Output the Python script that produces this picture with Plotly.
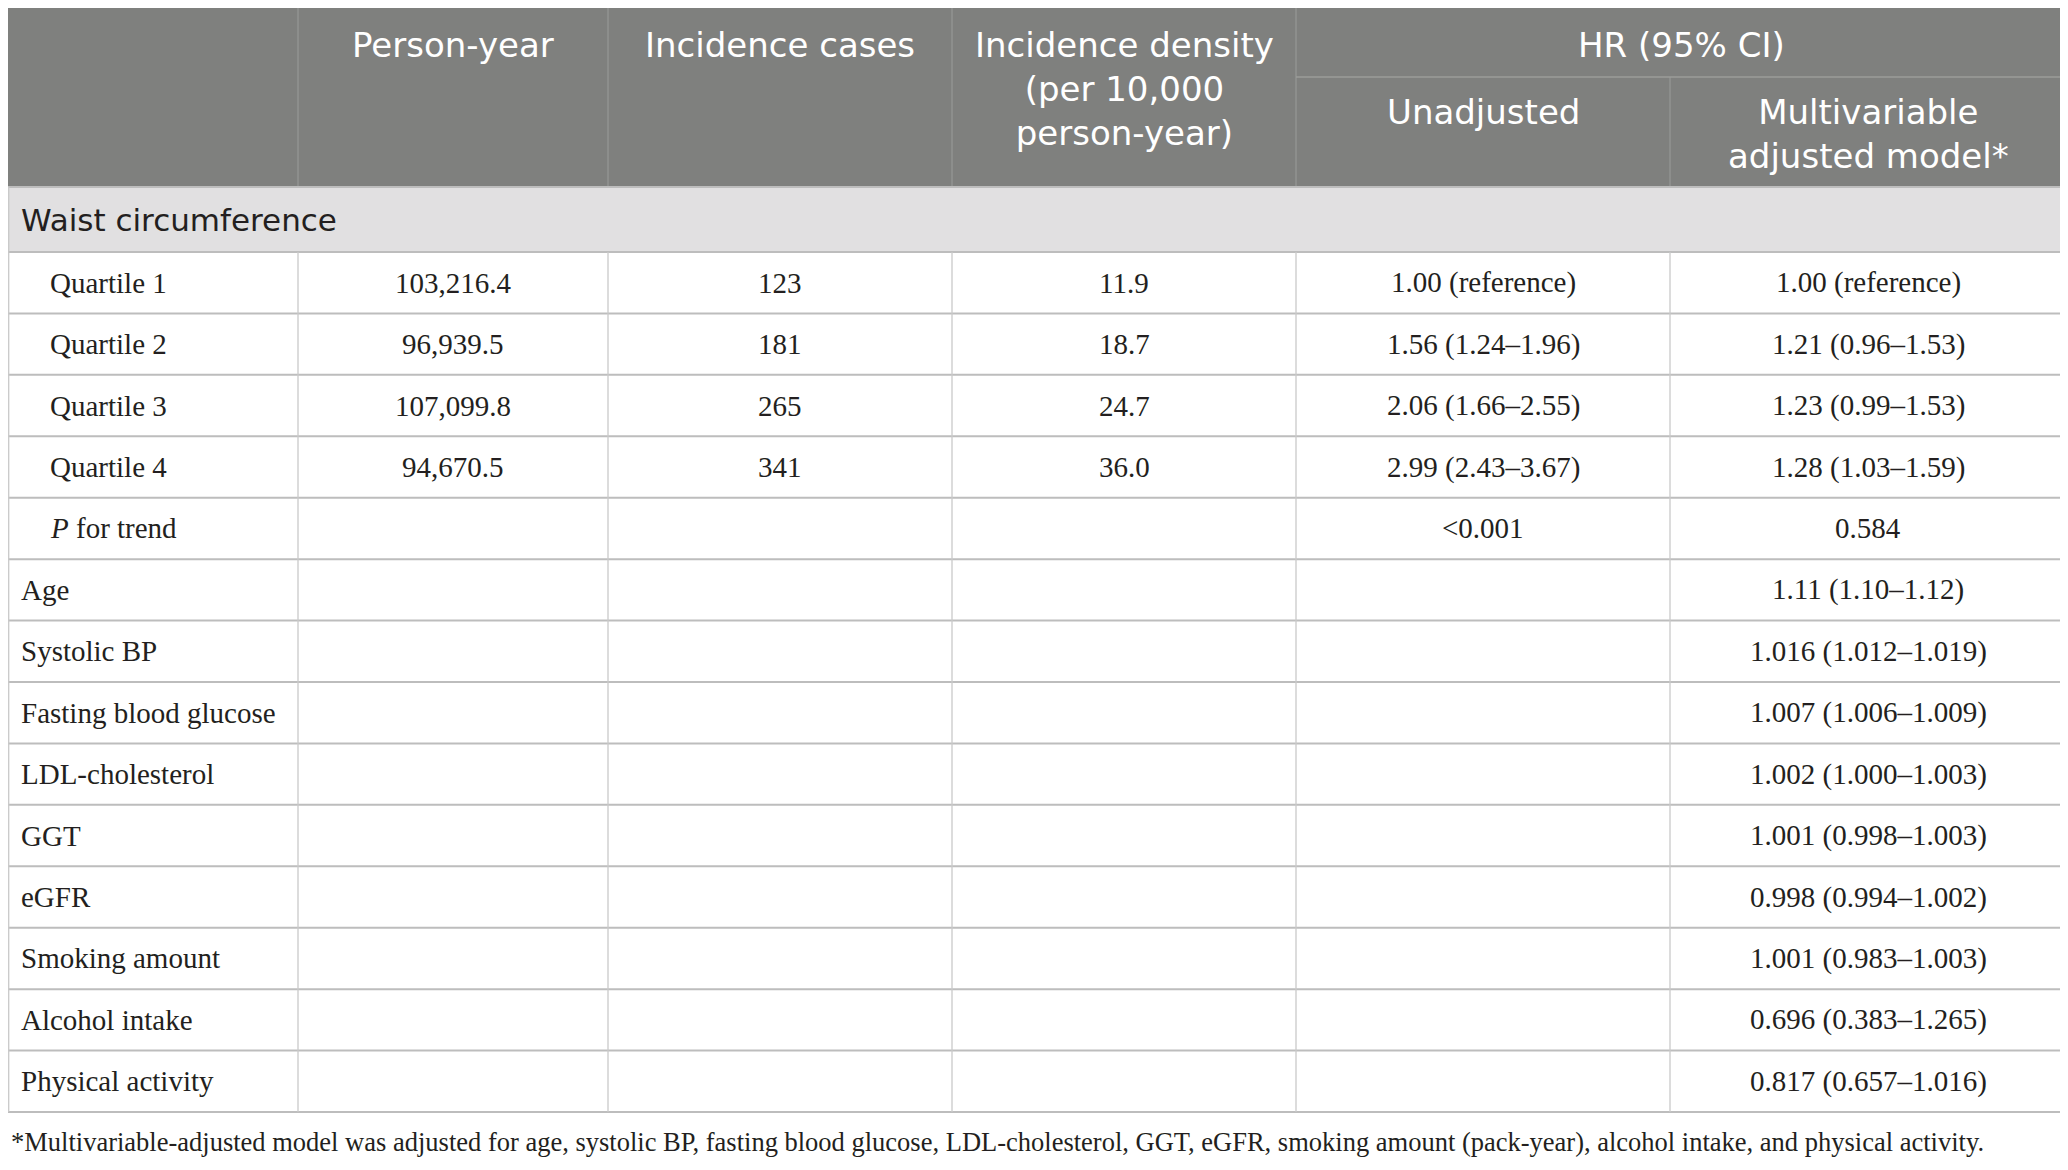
import plotly.graph_objects as go

# ---- table content ----
header_cols = ["", "Person-year", "Incidence cases",
               "Incidence density<br>(per 10,000<br>person-year)"]
hr_group = "HR (95% CI)"
hr_sub = ["Unadjusted", "Multivariable<br>adjusted model*"]
section_label = "Waist circumference"

row_labels = ["Quartile 1", "Quartile 2", "Quartile 3", "Quartile 4",
              "<i>P</i> for trend", "Age", "Systolic BP", "Fasting blood glucose",
              "LDL-cholesterol", "GGT", "eGFR", "Smoking amount",
              "Alcohol intake", "Physical activity"]
person_year = ["103,216.4", "96,939.5", "107,099.8", "94,670.5"]
incidence_cases = ["123", "181", "265", "341"]
incidence_density = ["11.9", "18.7", "24.7", "36.0"]
hr_unadjusted = ["1.00 (reference)", "1.56 (1.24–1.96)", "2.06 (1.66–2.55)",
                 "2.99 (2.43–3.67)", "<0.001"]
hr_adjusted = ["1.00 (reference)", "1.21 (0.96–1.53)", "1.23 (0.99–1.53)",
               "1.28 (1.03–1.59)", "0.584", "1.11 (1.10–1.12)",
               "1.016 (1.012–1.019)", "1.007 (1.006–1.009)", "1.002 (1.000–1.003)",
               "1.001 (0.998–1.003)", "0.998 (0.994–1.002)", "1.001 (0.983–1.003)",
               "0.696 (0.383–1.265)", "0.817 (0.657–1.016)"]
n_indented = 5
footnote = ("*Multivariable-adjusted model was adjusted for age, systolic BP, fasting blood "
            "glucose, LDL-cholesterol, GGT, eGFR, smoking amount (pack-year), alcohol intake, "
            "and physical activity.")

# ---- layout geometry (pixels of the page) ----
W, H = 2068, 1170
OFF = 8  # default body margin of the html page
col_x = [0, 298, 608, 952, 1296, 1670, 2066]
top, hr_split, head_bot, sec_bot = 8, 77, 187, 252
row_h = 61.43

HEAD_BG = "#7f807e"
SEC_BG = "#e1e0e1"
HEAD_LINE = "#9b9c9a"
GRID_H = "#bdbdbd"
GRID_V = "#c9c9c9"
TXT = "#231f20"
SANS = "DejaVu Sans"
SERIF = "Liberation Serif"

shapes = []
ann = []


def rect(x0, y0, x1, y1, color):
    shapes.append(dict(type="rect", x0=x0, x1=x1, y0=y0, y1=y1, fillcolor=color,
                       line=dict(width=0), layer="below"))


def line(x0, y0, x1, y1, color, w):
    shapes.append(dict(type="line", x0=x0, x1=x1, y0=y0, y1=y1,
                       line=dict(color=color, width=w)))


def text(x, y, s, family, size, color, align="center", yanchor="middle"):
    ann.append(dict(x=x, y=y, text=s, showarrow=False, xanchor=align, yanchor=yanchor,
                    align=align, font=dict(family=family, size=size, color=color)))


# header
rect(col_x[0], top, col_x[-1], head_bot, HEAD_BG)
for cx in col_x[1:5]:
    line(cx, top, cx, head_bot, HEAD_LINE, 1)
line(col_x[5], hr_split, col_x[5], head_bot, HEAD_LINE, 1)
line(col_x[4], hr_split, col_x[6], hr_split, HEAD_LINE, 1.5)

HSIZE = 34
for i, lab in enumerate(header_cols):
    if lab:
        cx = (col_x[i] + col_x[i + 1]) / 2
        text(cx, 23, lab, SANS, HSIZE, "white", yanchor="top")
text((col_x[4] + col_x[6]) / 2, 23, hr_group, SANS, HSIZE, "white", yanchor="top")
for j, lab in enumerate(hr_sub):
    cx = (col_x[4 + j] + col_x[5 + j]) / 2
    text(cx, 90, lab, SANS, HSIZE, "white", yanchor="top")

# section row
rect(col_x[0], head_bot, col_x[-1], sec_bot, SEC_BG)
text(19, (head_bot + sec_bot) / 2, section_label, SANS, 31, TXT, "left")

# body rows
columns = [person_year, incidence_cases, incidence_density, hr_unadjusted, hr_adjusted]
n = len(row_labels)
bottom = sec_bot + n * row_h
for i, lab in enumerate(row_labels):
    yc = sec_bot + (i + 0.5) * row_h
    xl = 48 if i < n_indented else 19
    text(xl, yc, lab, SERIF, 29, TXT, "left")
    for j, col in enumerate(columns):
        if i < len(col) and col[i]:
            cx = (col_x[j + 1] + col_x[j + 2]) / 2
            text(cx, yc, col[i], SERIF, 29, TXT)

for i in range(n + 1):
    y = sec_bot + i * row_h
    line(col_x[0], y, col_x[-1], y, GRID_H, 2)
line(col_x[0], head_bot, col_x[-1], head_bot, GRID_H, 2)
for cx in col_x[1:-1]:
    line(cx, sec_bot, cx, bottom, GRID_V, 1.3)
line(OFF + 0.7, head_bot, OFF + 0.7, bottom, GRID_V, 1.3)
line(col_x[-1], head_bot, col_x[-1], bottom, GRID_V, 1.3)

# footnote
text(OFF + 0.5, 1142, footnote, SERIF, 26.5, TXT, "left")

fig = go.Figure()
fig.update_layout(
    width=W - OFF, height=H - 2 * OFF, margin=dict(l=0, r=0, t=0, b=0),
    plot_bgcolor="white", paper_bgcolor="white",
    xaxis=dict(range=[OFF, W], visible=False, fixedrange=True),
    yaxis=dict(range=[H - OFF, OFF], visible=False, fixedrange=True),
    shapes=shapes, annotations=ann, showlegend=False,
)
fig.write_html("out.html")
